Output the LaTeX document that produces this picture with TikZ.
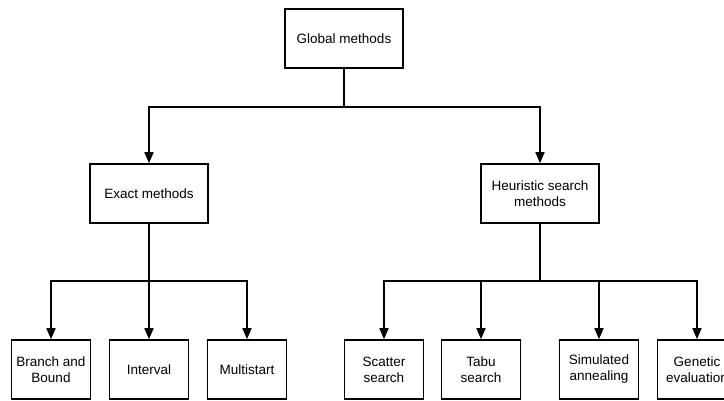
\documentclass[tikz,border=0pt]{standalone}
\usepackage{fontspec}
\setmainfont{Liberation Sans}
\usepackage{tikz}
\usetikzlibrary{arrows.meta,positioning}

\begin{document}
\begin{tikzpicture}[
    x=1pt, y=1pt,
    box/.style={rectangle, draw, line width=1.6pt, minimum width=118pt, minimum height=59pt, align=center, font=\fontsize{13.5}{16}\selectfont, inner sep=2pt},
    leaf/.style={box, minimum width=79pt},
    link/.style={draw, line width=1.6pt},
    arrow/.style={link, -{Triangle[length=11pt,width=9pt]}}
]
\clip (0,0) rectangle (724,400);

% Top level
\node[box] (global) at (344, 361.5) {Global methods};

% Second level
\node[box] (exact) at (149, 206.5) {Exact methods};
\node[box] (heur) at (540, 206.5) {Heuristic search\\methods};

% Leaves of exact methods
\node[leaf] (bb) at (51, 30.5) {Branch and\\Bound};
\node[leaf] (interval) at (149, 30.5) {Interval};
\node[leaf] (multi) at (247, 30.5) {Multistart};

% Leaves of heuristic methods
\node[leaf] (scatter) at (384, 30.5) {Scatter\\search};
\node[leaf] (tabu) at (481, 30.5) {Tabu\\search};
\node[leaf] (sa) at (599, 30.5) {Simulated\\annealing};
\node[leaf] (ga) at (697, 30.5) {Genetic\\evaluation};

% Junction points
\coordinate (j0) at (344, 293);
\coordinate (j1) at (149, 119);
\coordinate (j2) at (540, 119);

% Connectors from the top
\draw[link] (global.south) -- (j0);
\draw[arrow] (j0) -| (exact.north);
\draw[arrow] (j0) -| (heur.north);

% Connectors of exact methods
\draw[link] (exact.south) -- (j1);
\draw[arrow] (j1) -| (bb.north);
\draw[arrow] (j1) -- (interval.north);
\draw[arrow] (j1) -| (multi.north);

% Connectors of heuristic methods
\draw[line width=1.1pt] (heur.south) -- (j2);
\draw[arrow] (j2) -| (scatter.north);
\draw[arrow] (j2) -| (tabu.north);
\draw[arrow] (j2) -| (sa.north);
\draw[arrow] (j2) -| (ga.north);

\end{tikzpicture}
\end{document}
